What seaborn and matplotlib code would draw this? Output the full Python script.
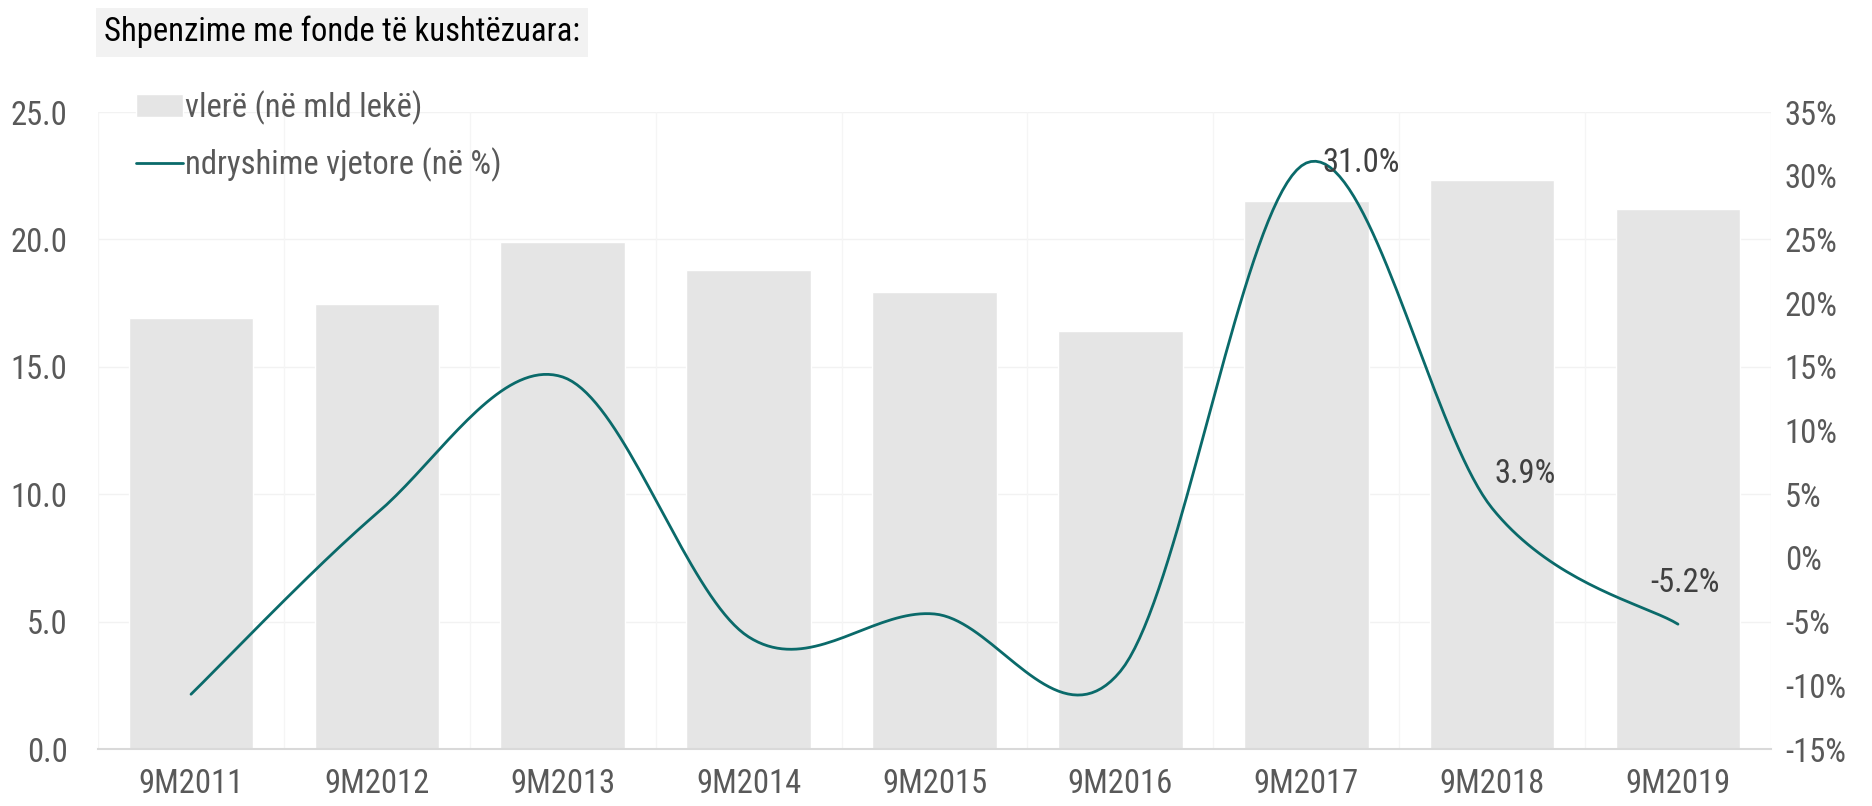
import numpy as np
import pandas as pd
import seaborn as sns
import matplotlib.pyplot as plt
import matplotlib.ticker as ticker
from matplotlib.font_manager import fontManager

## Data
periudha = ["9M2011", "9M2012", "9M2013", "9M2014", "9M2015",
            "9M2016", "9M2017", "9M2018", "9M2019"]
vlera = [16.9, 17.45, 19.9, 18.8, 17.95, 16.4, 21.5, 22.35, 21.2]
ndryshimi = [-10.7, 3.5, 14.2, -6.2, -4.4, -8.9, 31.0, 3.9, -5.2]
etiketa = {6: "31.0%", 7: "3.9%", 8: "-5.2%"}

BAR_COLOR = "#e5e5e5"
LINE_COLOR = "#0a6a6a"
TICK_COLOR = "#595959"


def smooth(y, n=40):
    ## Excel-like smoothing: Catmull-Rom segments drawn as cubic bezier
    y = np.asarray(y, float)
    x = np.arange(len(y), dtype=float)
    px = np.concatenate([[x[0]], x, [x[-1]]])
    py = np.concatenate([[y[0]], y, [y[-1]]])
    xs, ys = [], []
    t = np.linspace(0, 1, n)
    for i in range(len(y) - 1):
        p0 = np.array([px[i + 1], py[i + 1]])
        p3 = np.array([px[i + 2], py[i + 2]])
        c1 = p0 + (p3 - np.array([px[i], py[i]])) / 6
        c2 = p3 - (np.array([px[i + 3], py[i + 3]]) - p0) / 6
        b = ((1 - t) ** 3)[:, None] * p0 + (3 * (1 - t) ** 2 * t)[:, None] * c1 \
            + (3 * (1 - t) * t ** 2)[:, None] * c2 + (t ** 3)[:, None] * p3
        xs.extend(b[:, 0])
        ys.extend(b[:, 1])
    return np.array(xs), np.array(ys)


def pick_font():
    ## prefer a narrow face (the original looks like Arial Narrow)
    names = {f.name for f in fontManager.ttflist}
    for cand in ["Liberation Sans Narrow", "Arial Narrow", "Roboto Condensed",
                 "DejaVu Sans Condensed", "Open Sans Condensed"]:
        if cand in names:
            return cand, False
    return "Liberation Sans", True


def main():
    sns.set_style("white")
    fam, wide = pick_font()
    plt.rcParams["font.family"] = [fam, "DejaVu Sans"]
    plt.rcParams["axes.unicode_minus"] = False
    fs = 20 if wide else 23.5

    df = pd.DataFrame({"periudha": periudha, "vlera": vlera})

    fig = plt.figure(figsize=(18.72, 8.06), dpi=100)
    ax = fig.add_axes([0.0524, 0.0707, 0.8936, 0.7903])
    sns.barplot(data=df, x="periudha", y="vlera", color=BAR_COLOR, width=0.67,
                saturation=1, ax=ax, label="vlerë (në mld lekë)", zorder=2)
    if ax.get_legend() is not None:
        ax.get_legend().remove()
    ax.set_xlim(-0.5, len(periudha) - 0.5)
    ax.set_ylim(0, 25)
    ax.yaxis.set_major_locator(ticker.MultipleLocator(5))
    ax.yaxis.set_major_formatter(ticker.StrMethodFormatter("{x:.1f}"))
    ax.set_xlabel("")
    ax.set_ylabel("")
    for v in range(0, 26, 5):
        ax.axhline(v, color="#f2f2f2", lw=1, zorder=0)
    for b in np.arange(-0.5, len(periudha), 1.0):
        ax.axvline(b, color="#f5f5f5", lw=1, zorder=0)
    for s in ["top", "right", "left"]:
        ax.spines[s].set_visible(False)
    ax.spines["bottom"].set_color("#d9d9d9")
    ax.spines["bottom"].set_linewidth(1.5)
    ax.spines["bottom"].set_zorder(3)
    ax.tick_params(axis="y", length=0, pad=22, labelsize=fs, labelcolor=TICK_COLOR)
    ax.tick_params(axis="x", length=0, pad=14, labelsize=fs, labelcolor=TICK_COLOR)

    ax2 = ax.twinx()
    sx, sy = smooth(ndryshimi)
    sns.lineplot(x=sx, y=sy, sort=False, color=LINE_COLOR, lw=2, ax=ax2,
                 label="ndryshime vjetore (në %)", legend=False)
    ax2.set_ylim(-15, 35)
    ax2.yaxis.set_major_locator(ticker.MultipleLocator(5))
    ax2.yaxis.set_major_formatter(ticker.StrMethodFormatter("{x:.0f}%"))
    ax2.tick_params(axis="y", length=0, pad=10, labelsize=fs, labelcolor=TICK_COLOR)
    for s in ax2.spines.values():
        s.set_visible(False)
    ax2.set_ylabel("")

    offs = {6: (0.09, 0.0), 7: (0.18, 2.7), 8: (0.04, 3.2)}
    for i, txt in etiketa.items():
        dx, dy = offs[i]
        ax2.text(i + dx, ndryshimi[i] + dy, txt, fontsize=fs, color="#404040",
                 ha="left" if i == 6 else "center", va="center", zorder=5)

    h1, l1 = ax.get_legend_handles_labels()
    h2, l2 = ax2.get_legend_handles_labels()
    fig.legend(h1 + h2, l1 + l2, loc="upper left", bbox_to_anchor=(0.0655, 0.904),
               frameon=False, fontsize=fs, labelcolor=TICK_COLOR,
               handlelength=1.45, handletextpad=0.05, labelspacing=0.68,
               borderaxespad=0)

    fig.text(0.0555, 0.960, "Shpenzime me fonde të kushtëzuara:", fontsize=fs,
             color="black", ha="left", va="center",
             bbox=dict(boxstyle="square,pad=0.25", fc="#f2f2f2", ec="none"))

    fig.savefig("out.png", dpi=100)


if __name__ == "__main__":
    main()
